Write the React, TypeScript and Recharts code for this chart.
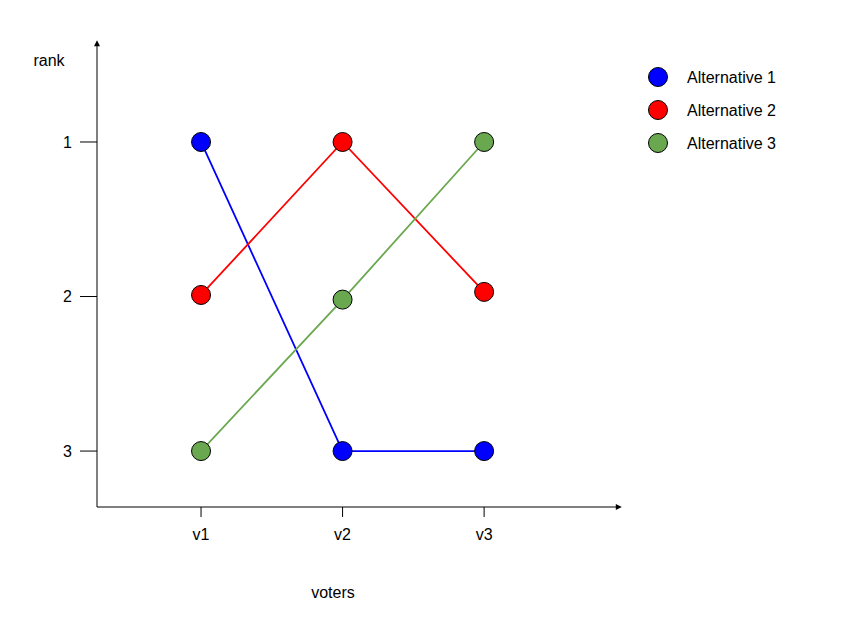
import { LineChart, Line, XAxis, YAxis, Label } from "recharts";

const voters = ["v1", "v2", "v3"];
const alt1 = [1, 3, 3];
const alt2 = [1.99, 1, 1.97];
const alt3 = [3, 2.02, 1];
const seriesNames = ["Alternative 1", "Alternative 2", "Alternative 3"];
const seriesColors = ["#0000ff", "#ff0000", "#6aa84f"];
const rankTicks = [1, 2, 3];

const data = voters.map((v, i) => ({
  x: i + 1,
  a1: alt1[i],
  a2: alt2[i],
  a3: alt3[i],
}));

const FONT = "'Liberation Sans', Arial, sans-serif";

export default function App() {
  return (
    <div style={{ position: "absolute", left: 0, top: 0, background: "#fff" }}>
      <LineChart
        width={845}
        height={637}
        data={data}
        margin={{ top: 42, right: 225, bottom: 70, left: 0 }}
        style={{ fontFamily: FONT }}
      >
        <defs>
          <marker
            id="arrow"
            viewBox="0 0 10 10"
            refX="7"
            refY="5"
            markerWidth="7"
            markerHeight="6"
            markerUnits="userSpaceOnUse"
            orient="auto-start-reverse"
          >
            <path d="M0,0 L10,5 L0,10 z" fill="#000" />
          </marker>
        </defs>
        <XAxis
          dataKey="x"
          type="number"
          domain={[0.265, 3.96]}
          ticks={rankTicks}
          tickFormatter={(v: number) => voters[v - 1]}
          height={60}
          tickSize={10}
          tickMargin={12}
          stroke="#000"
          axisLine={{ stroke: "#000", strokeWidth: 1, markerEnd: "url(#arrow)" }}
          tickLine={{ stroke: "#000" }}
          tick={{ fill: "#000", fontSize: 16 }}
        >
          <Label
            content={({ viewBox }: any) => (
              <text
                x={viewBox.x + 236}
                y={viewBox.y + 91}
                textAnchor="middle"
                fontSize={16}
                fill="#000"
              >
                voters
              </text>
            )}
          />
        </XAxis>
        <YAxis
          type="number"
          reversed
          domain={[0.353, 3.362]}
          ticks={rankTicks}
          width={97}
          tickSize={17}
          tickMargin={8}
          stroke="#000"
          axisLine={{ stroke: "#000", strokeWidth: 1, markerStart: "url(#arrow)" }}
          tickLine={{ stroke: "#000" }}
          tick={{ fill: "#000", fontSize: 16 }}
        >
          <Label
            content={({ viewBox }: any) => (
              <text
                x={49}
                y={viewBox.y + 24}
                textAnchor="middle"
                fontSize={16}
                fill="#000"
              >
                rank
              </text>
            )}
          />
        </YAxis>
        {["a1", "a2", "a3"].map((k, i) => (
          <Line
            key={k}
            dataKey={k}
            name={seriesNames[i]}
            type="linear"
            stroke={seriesColors[i]}
            strokeWidth={1.8}
            dot={{ r: 9.5, fill: seriesColors[i], stroke: "#000", strokeWidth: 1, fillOpacity: 1 }}
            activeDot={false}
            isAnimationActive={false}
          />
        ))}
        <g>
          {seriesNames.map((n, i) => (
            <g key={n}>
              <circle
                cx={658}
                cy={77 + i * 33}
                r={9.5}
                fill={seriesColors[i]}
                stroke="#000"
                strokeWidth={1}
              />
              <text x={687} y={77 + i * 33 + 6} fontSize={16} fill="#000">
                {n}
              </text>
            </g>
          ))}
        </g>
      </LineChart>
    </div>
  );
}
